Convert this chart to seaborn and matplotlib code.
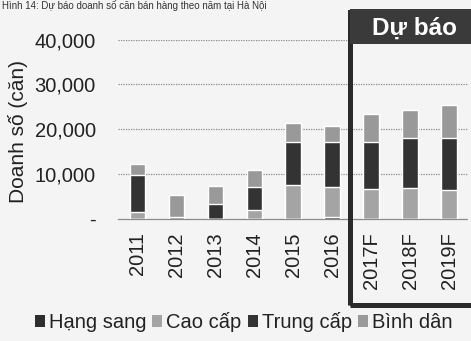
import matplotlib
matplotlib.use("Agg")
import matplotlib.pyplot as plt
from matplotlib.patches import Patch, Rectangle
from matplotlib.ticker import FixedLocator, FuncFormatter
import numpy as np
import pandas as pd
import seaborn as sns

# Apartment sales in Hanoi by year and segment (units)
years = ["2011", "2012", "2013", "2014", "2015", "2016", "2017F", "2018F", "2019F"]
hang_sang = [0, 0, 0, 0, 0, 300, 0, 0, 0]
cao_cap = [1500, 0, 0, 2000, 7400, 6700, 6550, 6750, 6350]
trung_cap = [8200, 400, 3200, 5050, 9700, 10100, 10550, 11150, 11550]
binh_dan = [2400, 4800, 4000, 3750, 4150, 3600, 6200, 6400, 7500]

segments = ["Hạng sang", "Cao cấp", "Trung cấp", "Bình dân"]
colors = ["#2e2e2e", "#a4a4a4", "#333333", "#999999"]
yticks = [0, 10000, 20000, 30000, 40000]

title_text = "Hình 14: Dự báo doanh số căn bán hàng theo năm tại Hà Nội"
forecast_label = "Dự báo"

sns.set_theme(style="white")
plt.rcParams["font.family"] = ["Liberation Sans", "DejaVu Sans"]

W, H = 471, 341
BG = "#f4f4f4"
fig = plt.figure(figsize=(W / 100, H / 100), dpi=100, facecolor=BG)


def fx(px):
    return px / W


def fy(py):
    return (H - py) / H


ax = fig.add_axes([fx(118), fy(218.5), fx(468.5) - fx(118), fy(39.5) - fy(218.5)])
ax.set_facecolor(BG)

df = pd.DataFrame({"year": years, "Hạng sang": hang_sang, "Cao cấp": cao_cap,
                   "Trung cấp": trung_cap, "Bình dân": binh_dan})
cum = df[segments].cumsum(axis=1)

# stacked bars: draw cumulative totals from the top segment down
for seg, col in reversed(list(zip(segments, colors))):
    sns.barplot(x=df["year"], y=cum[seg], color=col, width=0.4, order=years,
                saturation=1, ax=ax, zorder=3)

ax.set_xlim(-0.5, len(years) - 0.5)
ax.set_ylim(0, 40000)
ax.set_yticks(yticks)
ax.yaxis.set_major_formatter(FuncFormatter(lambda v, p: "-" if v == 0 else f"{int(v):,}"))
ax.tick_params(axis="y", length=0, pad=16, labelsize=14.5, colors="#222222")
ax.tick_params(axis="x", which="major", length=0, pad=10, labelsize=14.5,
               colors="#222222", labelrotation=90)
ax.xaxis.set_minor_locator(FixedLocator(np.arange(-0.5, len(years), 1.0)))
ax.tick_params(axis="x", which="minor", length=4, width=0.8, color="#888888",
               direction="out")
for lab in ax.get_xticklabels():
    lab.set_va("top")

for v in yticks[1:]:
    ax.axhline(v, color="#8a8a8a", lw=0.9, ls=(0, (1, 1)), zorder=1)
for s in ["top", "right", "left"]:
    ax.spines[s].set_visible(False)
ax.spines["bottom"].set_color("#8a8a8a")
ax.spines["bottom"].set_linestyle((0, (1, 1)))
ax.spines["bottom"].set_linewidth(0.9)

ax.set_xlabel("")
ax.set_ylabel("Doanh số (căn)", fontsize=15, color="#222222")
ax.yaxis.set_label_coords(-0.257, 0.486)

# forecast frame with header band
fig.patches.append(Rectangle((fx(349.5), fy(304.5)), fx(140), fy(11.5) - fy(304.5),
                             transform=fig.transFigure, fill=False,
                             edgecolor="#2a2a2a", lw=3.6, zorder=5))
fig.patches.append(Rectangle((fx(349.5), fy(44)), fx(140), fy(9) - fy(44),
                             transform=fig.transFigure, facecolor="#3a3a3a",
                             edgecolor="none", zorder=5))
fig.text(fx(414), fy(28), forecast_label, color="white", fontsize=17.5,
         fontweight="bold", ha="center", va="center", zorder=6)

# caption along the top edge
fig.text(fx(2), fy(9), title_text, fontsize=7, ha="left", va="baseline",
         color="#333333")

handles = [Patch(facecolor=c, edgecolor="none", label=s) for s, c in zip(segments, colors)]
fig.legend(handles=handles, loc="center", bbox_to_anchor=(fx(243.5), fy(322)),
           ncol=4, frameon=False, fontsize=14.5, handlelength=0.5, handleheight=0.5,
           handletextpad=0.2, columnspacing=0.3, borderaxespad=0, borderpad=0,
           labelcolor="#222222")

fig.savefig("out.png", dpi=100, facecolor=BG)
